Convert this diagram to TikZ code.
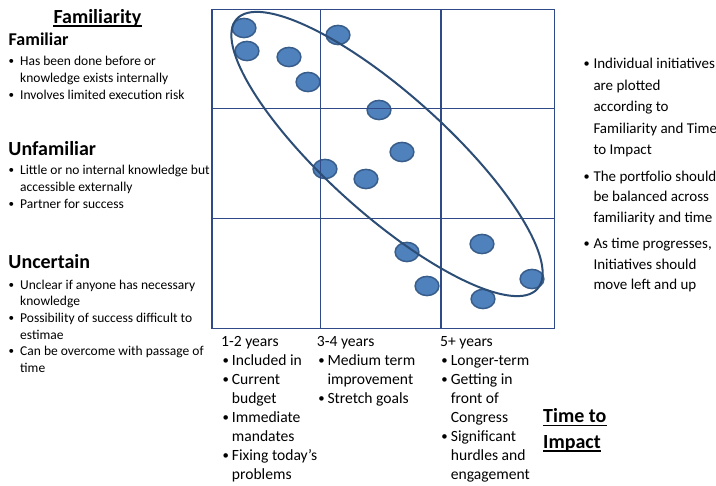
\documentclass[tikz,border=0pt]{standalone}
\usepackage{fontspec}
\usepackage{graphicx}
\setmainfont{Carlito}
\usetikzlibrary{shapes.geometric}
\definecolor{gridc}{RGB}{47,74,135}
\definecolor{dotfill}{RGB}{79,129,189}
\definecolor{dotline}{RGB}{56,93,138}
\definecolor{ringc}{RGB}{44,77,117}
\newcommand\mybul{\raisebox{0.08em}{\scalebox{0.82}{•}}}
\begin{document}
\begin{tikzpicture}[x=1pt,y=-1pt,
  hd/.style={anchor=base west,inner sep=0pt,font=\fontsize{20}{24}\selectfont\bfseries},
  hds/.style={anchor=base west,inner sep=0pt,font=\fontsize{18}{22}\selectfont\bfseries},
  lt/.style={anchor=base west,inner sep=0pt,font=\fontsize{13.5}{16}\selectfont},
  lb/.style={anchor=base,inner sep=0pt,font=\fontsize{13.5}{16}\selectfont},
  rt/.style={anchor=base west,inner sep=0pt,font=\fontsize{15}{18}\selectfont},
  rb/.style={anchor=base,inner sep=0pt,font=\fontsize{15}{18}\selectfont},
  bt/.style={anchor=base west,inner sep=0pt,font=\fontsize{15.6}{19}\selectfont},
  bb/.style={anchor=base,inner sep=0pt,font=\fontsize{15.6}{19}\selectfont},
  uline/.style={line width=1.4pt},
  gridline/.style={draw=gridc,line width=1.3pt},
  dot/.style={ellipse,draw=dotline,fill=dotfill,line width=1.5pt,minimum width=23.8pt,minimum height=19.2pt,inner sep=0pt},
  ring/.style={ellipse,draw=ringc,line width=2pt,minimum width=404pt,minimum height=120pt,inner sep=0pt,rotate=-41.9}]
\useasboundingbox (0,0) rectangle (716,486);
% dots
\foreach \px/\py [count=\i] in {244/28,247/51,289/57,308/82,338/35,379/110,402/152,325/169,366/179,407/252,482/244,427/286,483/299,532/279}
  \node[dot] (d\i) at (\px,\py) {};
% grid
\draw[gridline] (212,9.3) rectangle (554.3,328.5);
\draw[gridline] (320.3,9.3) -- (320.3,328.5);
\draw[gridline] (441,9.3) -- (441,328.5);
\draw[gridline] (212,108.5) -- (554.3,108.5);
\draw[gridline] (212,218.3) -- (554.3,218.3);
% big ring
\node[ring] (ring) at (387,154) {};
% left column
\node[hd] (hfam) at (53.3,23.3) {Familiarity};
\draw[uline] ([yshift=-2.7pt]hfam.base west) -- ([yshift=-2.7pt]hfam.base east);
\node[hds] (hfamiliar) at (8.5,45.7) {Familiar};
\node[lb] (b1) at (11.5,66) {\mybul};
\node[lt] (t1a) at (20,66) {Has been done before or};
\node[lt] (t1b) at (20,83) {knowledge exists internally};
\node[lb] (b2) at (11.5,100) {\mybul};
\node[lt] (t2) at (20,100) {Involves limited execution risk};
\node[hd] (hunf) at (8.3,156) {Unfamiliar};
\node[lb] (b3) at (11.5,175) {\mybul};
\node[lt] (t3a) at (20,175) {Little or no internal knowledge but};
\node[lt] (t3b) at (20,192) {accessible externally};
\node[lb] (b4) at (11.5,209) {\mybul};
\node[lt] (t4) at (20,209) {Partner for success};
\node[hd] (hunc) at (8.3,269) {Uncertain};
\node[lb] (b5) at (11.5,289.3) {\mybul};
\node[lt] (t5a) at (20,289.3) {Unclear if anyone has necessary};
\node[lt] (t5b) at (20,306) {knowledge};
\node[lb] (b6) at (11.5,322.7) {\mybul};
\node[lt] (t6a) at (20,322.7) {Possibility of success difficult to};
\node[lt] (t6b) at (20,339.3) {estimae};
\node[lb] (b7) at (11.5,356) {\mybul};
\node[lt] (t7a) at (20,356) {Can be overcome with passage of};
\node[lt] (t7b) at (20,372.7) {time};
% right column
\node[rb] (r1) at (586.7,69) {\mybul};
\node[rt] (r1a) at (593.3,69) {Individual initiatives};
\node[rt] (r1b) at (593.3,90.5) {are plotted};
\node[rt] (r1c) at (593.3,112) {according to};
\node[rt] (r1d) at (593.3,133.5) {Familiarity and Time};
\node[rt] (r1e) at (593.3,155) {to Impact};
\node[rb] (r2) at (586.7,181.5) {\mybul};
\node[rt] (r2a) at (593.3,181.5) {The portfolio should};
\node[rt] (r2b) at (593.3,202) {be balanced across};
\node[rt] (r2c) at (593.3,222.5) {familiarity and time};
\node[rb] (r3) at (586.7,249) {\mybul};
\node[rt] (r3a) at (593.3,249) {As time progresses,};
\node[rt] (r3b) at (593.3,269.5) {Initiatives should};
\node[rt] (r3c) at (593.3,290) {move left and up};
% bottom columns
\node[bt] (c1h) at (221,347) {1-2 years};
\node[bb] (c1b1) at (225.7,366) {\mybul};
\node[bt] (c1t1) at (231.7,366) {Included in};
\node[bb] (c1b2) at (225.7,385) {\mybul};
\node[bt] (c1t2a) at (231.7,385) {Current};
\node[bt] (c1t2b) at (231.7,404) {budget};
\node[bb] (c1b3) at (225.7,423) {\mybul};
\node[bt] (c1t3a) at (231.7,423) {Immediate};
\node[bt] (c1t3b) at (231.7,442) {mandates};
\node[bb] (c1b4) at (225.7,461) {\mybul};
\node[bt] (c1t4a) at (231.7,461) {Fixing today’s};
\node[bt] (c1t4b) at (231.7,480) {problems};
\node[bt] (c2h) at (316.7,347) {3-4 years};
\node[bb] (c2b1) at (321.5,366) {\mybul};
\node[bt] (c2t1a) at (327.3,366) {Medium term};
\node[bt] (c2t1b) at (327.3,385) {improvement};
\node[bb] (c2b2) at (321.5,404) {\mybul};
\node[bt] (c2t2) at (327.3,404) {Stretch goals};
\node[bt] (c3h) at (440,347) {5+ years};
\node[bb] (c3b1) at (444.5,366) {\mybul};
\node[bt] (c3t1) at (450.7,366) {Longer-term};
\node[bb] (c3b2) at (444.5,385) {\mybul};
\node[bt] (c3t2a) at (450.7,385) {Getting in};
\node[bt] (c3t2b) at (450.7,404) {front of};
\node[bt] (c3t2c) at (450.7,423) {Congress};
\node[bb] (c3b3) at (444.5,442) {\mybul};
\node[bt] (c3t3a) at (450.7,442) {Significant};
\node[bt] (c3t3b) at (450.7,461) {hurdles and};
\node[bt] (c3t3c) at (450.7,480) {engagement};
% Time to Impact
\node[hd] (tti1) at (543,423) {Time to};
\draw[uline] ([yshift=-2.8pt]tti1.base west) -- ([yshift=-2.8pt]tti1.base east);
\node[hd] (tti2) at (543,448.3) {Impact};
\draw[uline] ([yshift=-2.8pt]tti2.base west) -- ([yshift=-2.8pt]tti2.base east);
\end{tikzpicture}
\end{document}
